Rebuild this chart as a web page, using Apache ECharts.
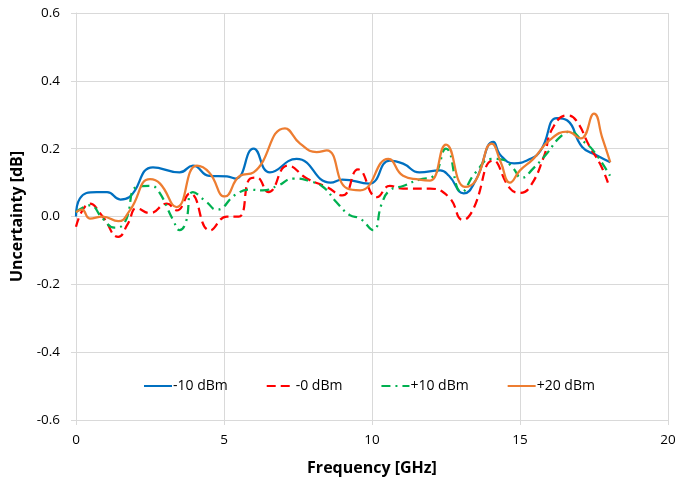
<!DOCTYPE html>
<html><head><meta charset="utf-8">
<script src="https://cdn.jsdelivr.net/npm/echarts@6/dist/echarts.min.js"></script>
<style>html,body{margin:0;padding:0;background:#fff}#c{width:691px;height:486px}</style>
</head><body><div id="c"></div>
<script>
var seriesNames = ['-10 dBm', '-0 dBm', '+10 dBm', '+20 dBm'];
var xTicks = [0, 5, 10, 15, 20];
var yTicks = [-0.6, -0.4, -0.2, 0.0, 0.2, 0.4, 0.6];

var blueF = [0, 0.13, 0.7, 1.05, 1.5, 1.8, 2.6, 3.5, 3.95, 4.5, 5.1, 5.4, 6.0, 6.55, 7.45, 8.6, 9.0, 9.9, 10.6, 11.05, 11.6, 12.3, 12.6, 13.1, 13.5, 14.1, 14.35, 14.8, 15.3, 15.7, 16.25, 16.6, 17.1, 17.6, 18.05];
var blueV = [0.0, 0.053, 0.072, 0.072, 0.05, 0.057, 0.145, 0.13, 0.15, 0.12, 0.118, 0.112, 0.2, 0.13, 0.17, 0.10, 0.109, 0.097, 0.165, 0.156, 0.13, 0.136, 0.12, 0.068, 0.106, 0.22, 0.18, 0.157, 0.168, 0.195, 0.29, 0.283, 0.205, 0.18, 0.16];

var redF = [0, 0.47, 0.9, 1.43, 1.76, 2.05, 2.5, 3.07, 3.4, 3.85, 4.53, 5.1, 5.5, 5.88, 6.1, 6.5, 7.16, 7.8, 8.47, 9.0, 9.53, 10.17, 10.6, 11.05, 11.96, 12.6, 13.07, 13.4, 14.1, 14.66, 15.0, 15.33, 15.8, 16.1, 16.6, 16.9, 17.36, 17.7, 17.97];
var redV = [-0.03, 0.038, 0.0, -0.06, -0.02, 0.024, 0.01, 0.038, 0.018, 0.068, -0.041, 0.0, 0.0, 0.112, 0.115, 0.072, 0.15, 0.112, 0.087, 0.062, 0.139, 0.057, 0.09, 0.082, 0.082, 0.057, -0.01, 0.018, 0.165, 0.083, 0.07, 0.087, 0.175, 0.26, 0.298, 0.283, 0.205, 0.156, 0.10];

var greenF = [0, 0.47, 0.9, 1.3, 1.65, 2.05, 2.5, 2.77, 3.28, 3.5, 3.7, 3.95, 4.42, 4.75, 5.4, 5.88, 6.3, 6.8, 7.35, 7.9, 8.35, 8.8, 9.25, 9.6, 10.04, 10.33, 10.6, 11.05, 11.6, 12.06, 12.5, 13.03, 13.5, 14.05, 14.4, 14.77, 15.05, 15.45, 15.9, 16.35, 16.7, 17.1, 17.47, 18.04];
var greenV = [0.013, 0.033, -0.006, -0.033, -0.017, 0.087, 0.09, 0.077, -0.01, -0.04, -0.02, 0.072, 0.042, 0.02, 0.065, 0.079, 0.077, 0.09, 0.112, 0.104, 0.087, 0.042, 0.004, -0.006, -0.04, 0.038, 0.077, 0.09, 0.109, 0.118, 0.2, 0.072, 0.13, 0.17, 0.168, 0.142, 0.114, 0.142, 0.185, 0.234, 0.25, 0.224, 0.195, 0.12];

var orangeF = [0, 0.2, 0.47, 0.9, 1.43, 1.82, 2.5, 2.84, 3.4, 4.08, 4.5, 5.03, 5.54, 6.0, 7.06, 7.57, 8.13, 8.47, 9.15, 9.6, 10.55, 11.05, 11.6, 11.96, 12.5, 13.14, 13.5, 14.05, 14.35, 14.66, 15.0, 15.45, 16.0, 16.6, 17.05, 17.5, 17.78, 18.05];
var orangeV = [0.013, 0.02, -0.006, 0.0, -0.014, 0.018, 0.11, 0.097, 0.028, 0.15, 0.13, 0.059, 0.12, 0.13, 0.26, 0.215, 0.19, 0.195, 0.083, 0.077, 0.17, 0.12, 0.109, 0.106, 0.212, 0.087, 0.106, 0.215, 0.16, 0.10, 0.136, 0.17, 0.225, 0.25, 0.23, 0.303, 0.232, 0.16];

function pairs(f, v) { return f.map(function (x, i) { return [x, v[i]]; }); }

var font = '"Open Sans", "Liberation Sans", sans-serif';
var chart = echarts.init(document.getElementById('c'), null, { renderer: 'canvas' });
function mk(name, f, v, color, type) {
  return {
    name: name, type: 'line', data: pairs(f, v), smooth: 0.5, symbol: 'none',
    lineStyle: { color: color, width: 2.25, type: type, cap: 'butt' },
    itemStyle: { color: color }
  };
}
chart.setOption({
  animation: false,
  grid: { left: 76, right: 23, top: 13, bottom: 66, containLabel: false },
  legend: {
    left: 138, top: 374, itemGap: 38, itemWidth: 28, itemHeight: 14,
    itemStyle: { opacity: 0 },
    textStyle: { fontFamily: font, fontSize: 14, color: '#000', padding: [0, 0, 0, -4] },
    data: seriesNames
  },
  xAxis: {
    type: 'value', min: 0, max: 20, interval: 5,
    name: 'Frequency [GHz]', nameLocation: 'middle', nameGap: 40,
    nameTextStyle: { fontFamily: font, fontSize: 16, fontWeight: 'bold', color: '#000' },
    axisLine: { show: true, onZero: false, lineStyle: { color: '#d9d9d9' } },
    axisTick: { show: true, length: 5, lineStyle: { color: '#d9d9d9' } },
    axisLabel: { fontFamily: font, fontSize: 13.5, color: '#000', margin: 13 },
    splitLine: { show: true, lineStyle: { color: '#d9d9d9', width: 1 } }
  },
  yAxis: {
    type: 'value', min: -0.6, max: 0.6, interval: 0.2,
    name: 'Uncertainty [dB]', nameLocation: 'middle', nameGap: 48,
    nameTextStyle: { fontFamily: font, fontSize: 16, fontWeight: 'bold', color: '#000' },
    axisLine: { show: true, lineStyle: { color: '#d9d9d9' } },
    axisTick: { show: true, length: 5, lineStyle: { color: '#d9d9d9' } },
    axisLabel: { fontFamily: font, fontSize: 13.5, color: '#000', margin: 16,
      formatter: function (v) { return v.toFixed(1); } },
    splitLine: { show: true, lineStyle: { color: '#d9d9d9', width: 1 } }
  },
  series: [
    mk(seriesNames[0], blueF, blueV, '#0070C0', 'solid'),
    mk(seriesNames[1], redF, redV, '#FF0000', [9, 5]),
    mk(seriesNames[2], greenF, greenV, '#00B050', [9, 5, 2, 5]),
    mk(seriesNames[3], orangeF, orangeV, '#ED7D31', 'solid')
  ]
});
</script></body></html>
